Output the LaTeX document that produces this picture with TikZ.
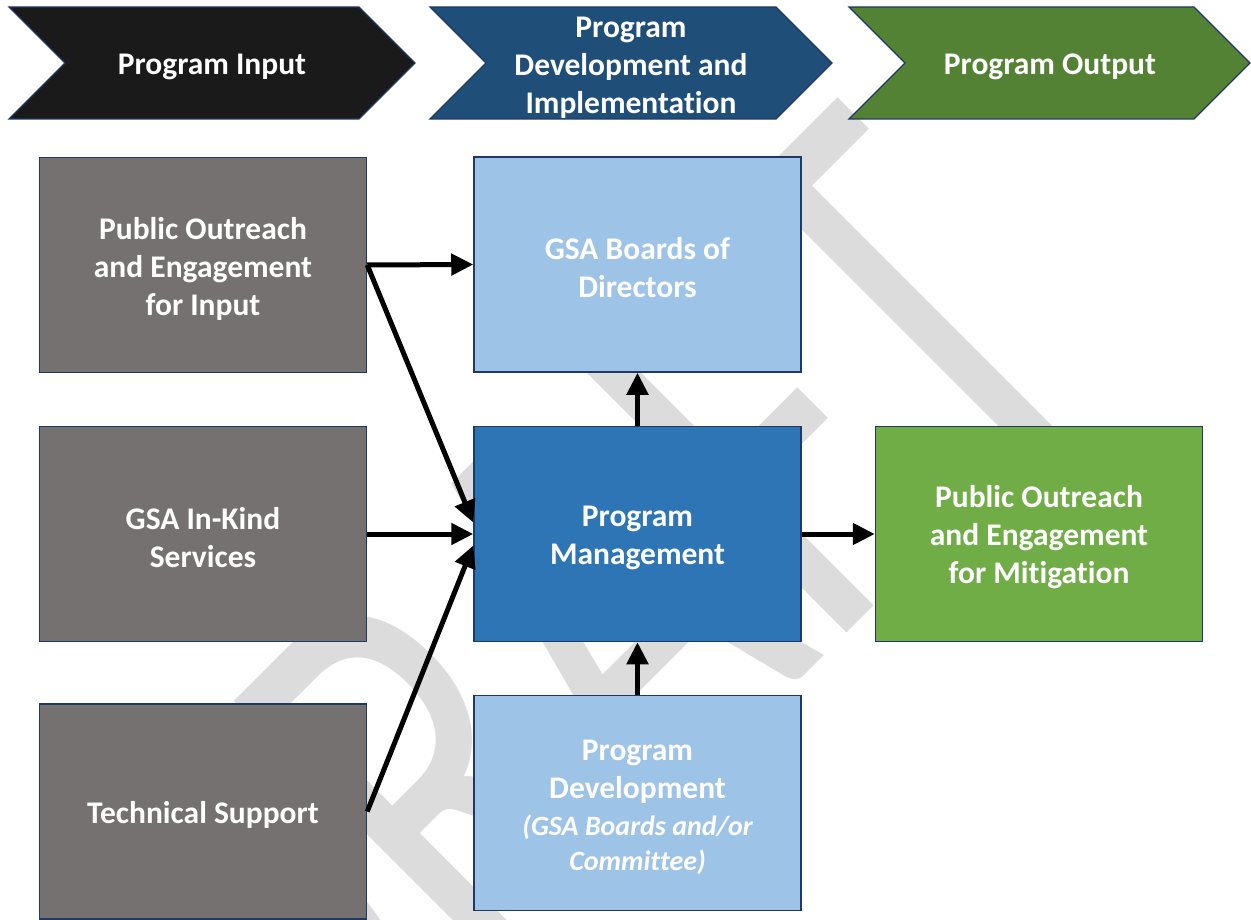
\documentclass[tikz,border=0pt]{standalone}
\usepackage{graphicx}
\usepackage{fontspec}
\setmainfont{Carlito}[Ligatures=NoCommon]
\usepackage{tikz}
\usetikzlibrary{arrows.meta}

\definecolor{headblack}{RGB}{26,26,26}
\definecolor{headblue}{RGB}{31,78,121}
\definecolor{headgreen}{RGB}{84,130,53}
\definecolor{edgenavy}{RGB}{32,56,100}
\definecolor{inputgray}{RGB}{118,113,113}
\definecolor{paleblue}{RGB}{157,195,230}
\definecolor{midblue}{RGB}{46,117,182}
\definecolor{outgreen}{RGB}{112,173,71}
\definecolor{draftgray}{RGB}{220,220,220}

\begin{document}
\begin{tikzpicture}[x=1pt,y=-1pt,
  box/.style={draw=edgenavy,line width=1.5pt,minimum width=327pt,minimum height=215pt,
    inner sep=0pt,text width=320pt,align=flush center,text=white,font=\bfseries\fontsize{31.5}{38}\selectfont,
    execute at begin node={\rule{0pt}{29pt}}},
  headtext/.style={inner sep=0pt,text width=330pt,align=flush center,text=white,font=\bfseries\fontsize{31.5}{38}\selectfont,
    execute at begin node={\rule{0pt}{28pt}}},
  head/.style={draw=edgenavy,line width=1.2pt},
  flow/.style={line width=5pt,-{Triangle[length=22pt,width=21pt]}}]
\useasboundingbox (0,0) rectangle (1251,920);
\clip (0,0) rectangle (1251,920);
% watermark behind everything
\node[rotate=45,anchor=base west,inner sep=0pt,text=draftgray,
  font=\fontsize{600}{600}\selectfont] (draft) at (297.5,1182.5) {\scalebox{0.717}[1]{DRAFT}};
% the three stage headers
\filldraw[head,fill=headblack] (9,7) -- (359,7) -- (415,63) -- (359,119) -- (9,119) -- (65,63) -- cycle;
\filldraw[head,fill=headblue] (430,7) -- (776,7) -- (832,63) -- (776,119) -- (430,119) -- (486,63) -- cycle;
\filldraw[head,fill=headgreen] (849,7) -- (1194,7) -- (1250,63) -- (1194,119) -- (849,119) -- (905,63) -- cycle;
\node[headtext] (inhead) at (212,63) {Program Input};
\node[headtext] (devhead) at (631,64) {Program\\Development and\\Implementation};
\node[headtext] (outhead) at (1050,63) {Program Output};
% input column
\node[box,fill=inputgray] (pubin) at (203,265) {Public Outreach\\and Engagement\\for Input};
\node[box,fill=inputgray] (inkind) at (203,534) {GSA In-Kind\\Services};
\node[box,fill=inputgray] (techsup) at (203,811.5) {Technical Support};
% development column
\node[box,fill=paleblue] (gsab) at (637.5,264.5) {GSA Boards of\\Directors};
\node[box,fill=midblue] (pm) at (637.5,534) {Program\\Management};
\node[box,fill=paleblue] (progdev) at (637.5,803) {Program\\Development\\[-1pt]
  {\itshape\fontsize{28}{34}\selectfont(GSA Boards and/or}\\[-3pt]
  {\itshape\fontsize{28}{34}\selectfont Committee)}};
% output
\node[box,fill=outgreen] (pubout) at (1039,534) {Public Outreach\\and Engagement\\for Mitigation};
% connectors
\draw[flow] (pubin.east) -- (gsab.west);
\draw[flow] (pubin.east) -- (pm.176);
\draw[flow] (inkind.east) -- (pm.west);
\draw[flow] (techsup.east) -- (pm.184);
\draw[flow] (pm.north) -- (gsab.south);
\draw[flow] (progdev.north) -- (pm.south);
\draw[flow] (pm.east) -- (pubout.west);
\end{tikzpicture}
\end{document}
